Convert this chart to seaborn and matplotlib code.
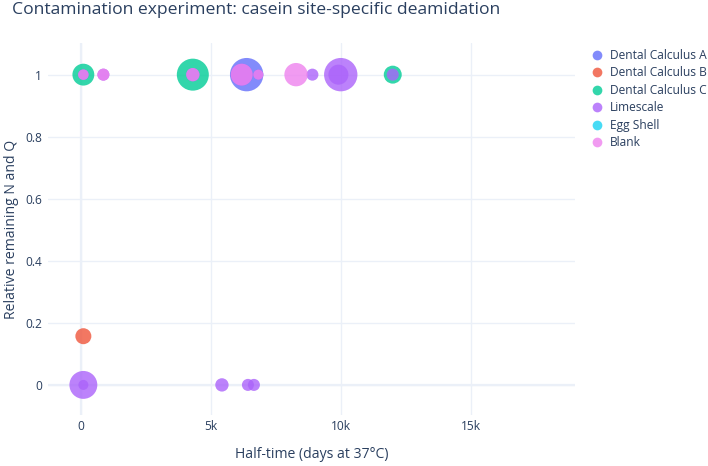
import pandas as pd
import seaborn as sns
from matplotlib import pyplot as plt
from matplotlib.lines import Line2D

# groups in legend / drawing order
groups = ["Dental Calculus A", "Dental Calculus B", "Dental Calculus C",
          "Limescale", "Egg Shell", "Blank"]
colours = ["#636EFA", "#EF553B", "#00CC96", "#AB63FA", "#19D3F3", "#EE82EE"]

# half-time (days at 37C), relative remaining N and Q, bubble size value
calc_a_x = [6370]
calc_a_y = [1]
calc_a_size = [100]

calc_b_x = [90]
calc_b_y = [0.157]
calc_b_size = [23]

calc_c_x = [90, 4300, 11990]
calc_c_y = [1, 1, 1]
calc_c_size = [43, 92, 29]

lime_x = [90, 860, 4300, 6180, 6820, 8900, 9990, 9900, 11990, 90, 90, 5420, 6420, 6650]
lime_y = [1, 1, 1, 1, 1, 1, 1, 1, 1, 0, 0, 0, 0, 0]
lime_size = [10, 13, 16, 43, 9, 13, 100, 36, 13, 70, 9, 16, 13, 13]

egg_x = []
egg_y = []
egg_size = []

blank_x = [90, 860, 4300, 6180, 6820, 8270]
blank_y = [1, 1, 1, 1, 1, 1]
blank_size = [10, 13, 16, 43, 9, 49]

x_ticks = [0, 5000, 10000, 15000]
x_tick_labels = ["0", "5k", "10k", "15k"]
y_ticks = [0, 0.2, 0.4, 0.6, 0.8, 1]
y_tick_labels = ["0", "0.2", "0.4", "0.6", "0.8", "1"]


def main():
    series = [
        (calc_a_x, calc_a_y, calc_a_size),
        (calc_b_x, calc_b_y, calc_b_size),
        (calc_c_x, calc_c_y, calc_c_size),
        (lime_x, lime_y, lime_size),
        (egg_x, egg_y, egg_size),
        (blank_x, blank_y, blank_size),
    ]
    frames = []
    for name, (xs, ys, ss) in zip(groups, series):
        frames.append(pd.DataFrame({"half_time": xs, "remaining": ys,
                                    "size": ss, "sample": name}))
    df = pd.concat([f for f in frames if len(f)], ignore_index=True)

    sns.set_theme(style="white")
    plt.rcParams["font.family"] = ["Open Sans", "DejaVu Sans"]
    text_col = "#2a3f5f"
    grid_col = "#EBF0F8"

    fig = plt.figure(figsize=(7.08, 4.66), dpi=100)
    ax = fig.add_axes([48 / 708, 51 / 466, 527 / 708, 372 / 466])

    palette = dict(zip(groups, colours))
    sns.scatterplot(data=df, x="half_time", y="remaining", hue="sample",
                    size="size", sizes=(0, 577), size_norm=(0, 100),
                    palette=palette, hue_order=groups, alpha=0.8,
                    linewidth=0, legend=False, ax=ax, zorder=3)

    ax.set_xlim(-1270, 19000)
    ax.set_ylim(-0.097, 1.102)
    ax.set_xticks(x_ticks)
    ax.set_xticklabels(x_tick_labels)
    ax.set_yticks(y_ticks)
    ax.set_yticklabels(y_tick_labels)
    ax.grid(True, color=grid_col, linewidth=1)
    ax.axvline(0, color=grid_col, linewidth=1.6, zorder=1)
    ax.axhline(0, color=grid_col, linewidth=1.6, zorder=1)
    ax.set_axisbelow(True)
    for sp in ax.spines.values():
        sp.set_visible(False)
    ax.tick_params(length=0, labelsize=8.64, labelcolor=text_col)
    ax.tick_params(axis="y", pad=4.5)
    ax.tick_params(axis="x", pad=3.5)

    ax.set_xlabel("Half-time (days at 37°C)", fontsize=10.08,
                  color=text_col, labelpad=10)
    ax.set_ylabel("Relative remaining N and Q", fontsize=10.08,
                  color=text_col, labelpad=4.5)

    fig.text(12 / 708, 1 - 10 / 466,
             "Contamination experiment: casein site-specific deamidation",
             fontsize=12.6, color=text_col, va="center", ha="left")

    handles = [Line2D([], [], marker="o", linestyle="", markersize=7,
                      markerfacecolor=c, markeredgewidth=0, alpha=0.8)
               for c in colours]
    leg = fig.legend(handles, groups, loc="upper left",
                     bbox_to_anchor=(591 / 708, 1 - 49 / 466),
                     frameon=False, fontsize=8.64, handlelength=1.0,
                     handletextpad=0.55, labelspacing=0.37, borderpad=0,
                     borderaxespad=0)
    for t in leg.get_texts():
        t.set_color(text_col)

    fig.savefig("out.png", dpi=100)


main()
